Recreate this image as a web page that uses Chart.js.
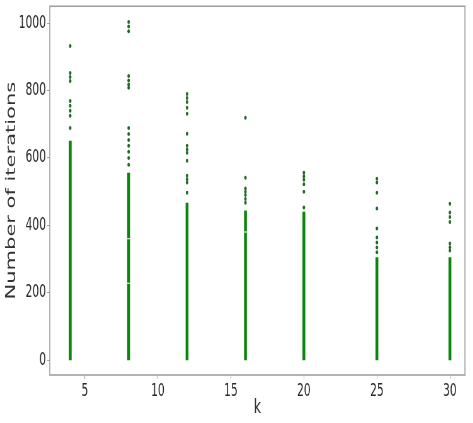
<!DOCTYPE html>
<html>
<head>
<meta charset="utf-8">
<script src="https://cdn.jsdelivr.net/npm/chart.js@4/dist/chart.umd.min.js"></script>
<style>
  html, body { margin: 0; padding: 0; background: #fff; overflow: hidden; }
  /* the figure is laid out wide and squeezed horizontally to a 473px box */
  #wrap { width: 751px; height: 423px; transform: scaleX(0.63); transform-origin: 0 0; }
</style>
</head>
<body>
<div id="wrap"><canvas id="c" width="751" height="423"></canvas></div>
<script>
// number of clusters k
const kValues = [4, 8, 12, 16, 20, 25, 30];

// iteration ranges where the runs overlap into a solid bar, one list per k
const denseRuns = [
  [[0, 651]],
  [[0, 227], [230, 359], [362, 556]],
  [[0, 467]],
  [[0, 379], [382, 444]],
  [[0, 440]],
  [[0, 305]],
  [[0, 305]]
];

// isolated runs above the solid bar, one list per k
const sparseRuns = [
  [689, 725, 740, 755, 769, 828, 840, 852, 932],
  [580, 600, 618, 636, 653, 671, 689, 808, 818, 830, 843, 976, 990, 1003],
  [497, 527, 537, 547, 592, 615, 625, 636, 672, 731, 749, 766, 778, 790],
  [467, 478, 490, 500, 509, 541, 719],
  [453, 500, 522, 535, 546, 556],
  [320, 334, 349, 364, 391, 450, 497, 527, 538],
  [325, 335, 346, 410, 425, 438, 464]
];

const xTicks = [5, 10, 15, 20, 25, 30];
const yTicks = [0, 200, 400, 600, 800, 1000];

const densePoints = [];
kValues.forEach((k, i) => {
  denseRuns[i].forEach(([lo, hi]) => {
    densePoints.push({ x: k, y: lo }, { x: k, y: hi }, { x: k, y: null });
  });
});

const sparsePoints = [];
kValues.forEach((k, i) => {
  sparseRuns[i].forEach(v => sparsePoints.push({ x: k, y: v }));
});

const frame = {
  id: 'frame',
  afterDraw(chart) {
    const { ctx, chartArea: a } = chart;
    ctx.save();
    ctx.strokeStyle = '#a0a0a0';
    ctx.lineWidth = 1.6;
    ctx.strokeRect(a.left, a.top, a.right - a.left, a.bottom - a.top);
    ctx.restore();
  }
};

const bg = {
  id: 'bg',
  beforeDraw(chart) {
    const { ctx } = chart;
    ctx.save();
    ctx.fillStyle = '#fff';
    ctx.fillRect(0, 0, chart.width, chart.height);
    ctx.restore();
  }
};

new Chart(document.getElementById('c'), {
  type: 'scatter',
  data: {
    datasets: [
      {
        data: sparsePoints,
        pointRadius: 2,
        pointBorderWidth: 0,
        pointBackgroundColor: '#1f6b25',
        showLine: false
      },
      {
        data: densePoints,
        showLine: true,
        spanGaps: false,
        borderColor: '#0a870a',
        borderWidth: 4.5,
        borderCapStyle: 'butt',
        pointRadius: 0
      }
    ]
  },
  plugins: [bg, frame],
  options: {
    responsive: false,
    animation: false,
    layout: { padding: { top: 5, right: 13, left: 0, bottom: 0 } },
    plugins: { legend: { display: false }, tooltip: { enabled: false } },
    scales: {
      x: {
        type: 'linear',
        min: 2.6,
        max: 31.03,
        afterBuildTicks: s => { s.ticks = xTicks.map(v => ({ value: v })); },
        afterFit: s => { s.height = 48; },
        grid: { drawOnChartArea: false, tickLength: 4, color: '#a0a0a0' },
        border: { display: false },
        ticks: { font: { family: 'DejaVu Sans', size: 17 }, color: '#2a2a2a', padding: 2, maxRotation: 0, callback: v => String(v) },
        title: { display: true, text: 'k', font: { family: 'DejaVu Sans', size: 20 }, color: '#333', padding: { top: 0, bottom: 3 } }
      },
      y: {
        type: 'linear',
        min: -44,
        max: 1050,
        afterBuildTicks: s => { s.ticks = yTicks.map(v => ({ value: v })); },
        afterFit: s => { s.width = 79; },
        grid: { drawOnChartArea: false, tickLength: 4, color: '#a0a0a0' },
        border: { display: false },
        ticks: { font: { family: 'DejaVu Sans', size: 17, lineHeight: 0.5 }, color: '#2a2a2a', padding: 2, callback: v => String(v) },
        title: { display: true, text: 'Number of iterations', font: { family: 'DejaVu Sans', size: 21 }, color: '#333', padding: { top: 6, bottom: 0 } }
      }
    }
  }
});
</script>
</body>
</html>
